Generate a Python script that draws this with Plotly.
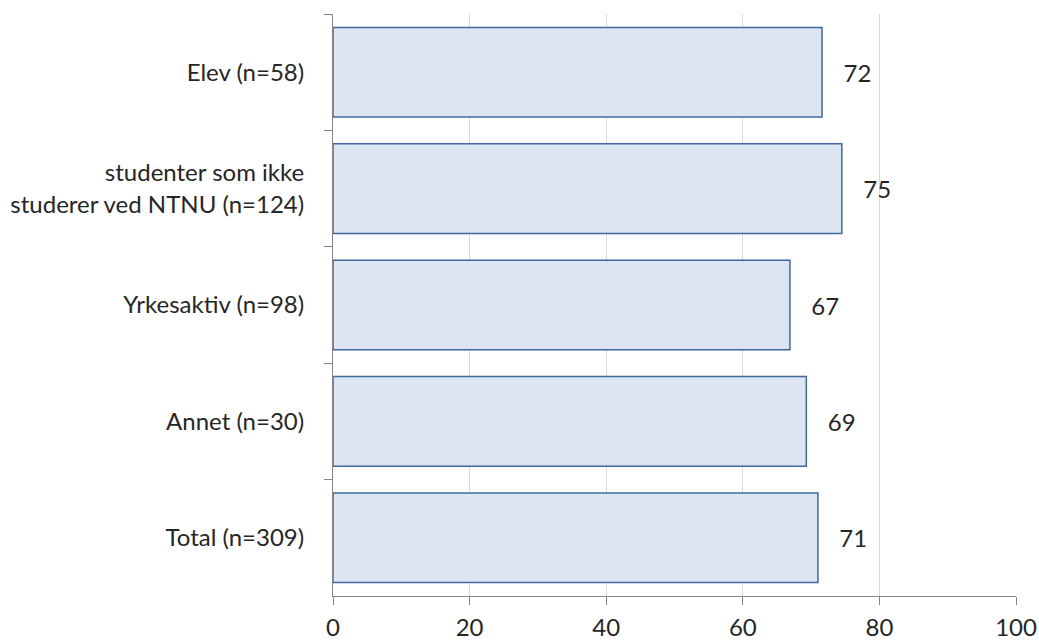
import plotly.graph_objects as go

categories = ["Elev (n=58)", "studenter som ikke<br>studerer ved NTNU (n=124)",
              "Yrkesaktiv (n=98)", "Annet (n=30)", "Total (n=309)"]
values = [71.6, 74.5, 66.9, 69.3, 71.0]
labels = ["72", "75", "67", "69", "71"]
x_ticks = [0, 20, 40, 60, 80, 100]

font_family = "Lato"

fig = go.Figure(go.Bar(
    x=values, y=categories, orientation="h",
    text=["   " + t for t in labels], textposition="outside",
    textfont=dict(size=24, color="#262626", family=font_family),
    marker=dict(color="#DCE6F2", line=dict(color="#41689C", width=1.5)),
    cliponaxis=False, hoverinfo="skip",
))

fig.update_layout(
    width=1039, height=641,
    margin=dict(l=333, r=23, t=14, b=45),
    plot_bgcolor="white", paper_bgcolor="white",
    bargap=0.23, showlegend=False,
    font=dict(family=font_family, size=24, color="#262626"),
)
fig.update_xaxes(range=[0, 100], tickvals=x_ticks, showgrid=True, gridcolor="#D9D9D9",
                 gridwidth=1, zeroline=False, showline=True, linecolor="#868686",
                 linewidth=1, ticks="outside", ticklen=8, tickcolor="#868686",
                 tickfont=dict(size=24), ticklabelstandoff=2, automargin=False)
fig.update_yaxes(autorange="reversed", showline=True, linecolor="#868686", linewidth=1,
                 ticks="outside", ticklen=8, tickcolor="#868686", tickson="boundaries",
                 showgrid=False, tickfont=dict(size=24), ticklabelstandoff=23,
                 automargin=False)

fig.write_html("out.html", config={"displayModeBar": False},
               post_script="document.body.style.margin='0';")
